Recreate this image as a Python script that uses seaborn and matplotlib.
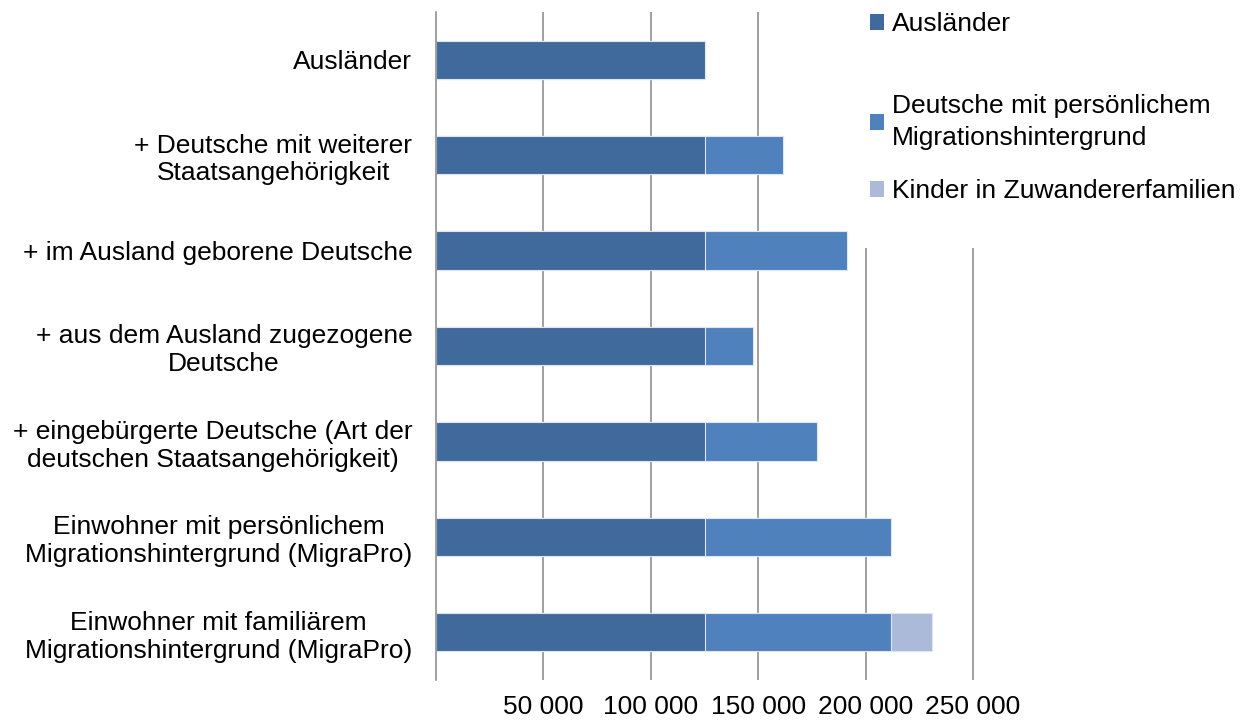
import matplotlib
matplotlib.use("Agg")
import matplotlib.pyplot as plt
from matplotlib.patches import Patch, Rectangle
import pandas as pd
import seaborn as sns

# Daten
kategorien = [
    "Ausländer",
    "+ Deutsche mit weiterer\nStaatsangehörigkeit",
    "+ im Ausland geborene Deutsche",
    "+ aus dem Ausland zugezogene\nDeutsche",
    "+ eingebürgerte Deutsche (Art der\ndeutschen Staatsangehörigkeit)",
    "Einwohner mit persönlichem\nMigrationshintergrund (MigraPro)",
    "Einwohner mit familiärem\nMigrationshintergrund (MigraPro)",
]
auslaender = [125000, 125000, 125000, 125000, 125000, 125000, 125000]
deutsche = [0, 36700, 66500, 22600, 52200, 86700, 86700]
kinder = [0, 0, 0, 0, 0, 0, 19100]

serien = [
    "Ausländer",
    "Deutsche mit persönlichem\nMigrationshintergrund",
    "Kinder in Zuwandererfamilien",
]
farben = ["#416A9C", "#4F81BD", "#AABAD8"]
x_ticks = [50000, 100000, 150000, 200000, 250000]
x_ticklabels = ["50 000", "100 000", "150 000", "200 000", "250 000"]

df = pd.DataFrame({"kategorie": kategorien, "auslaender": auslaender,
                   "deutsche": deutsche, "kinder": kinder})
df["stufe2"] = df["auslaender"] + df["deutsche"]
df["stufe3"] = df["stufe2"] + df["kinder"]

sns.set_theme(style="white")
plt.rcParams["font.family"] = ["Liberation Sans", "DejaVu Sans"]
fs = 19

W, H = 1246, 724
fig = plt.figure(figsize=(W / 100, H / 100), dpi=100)
x0, x250, top, bottom = 436, 973, 12, 680
xmax = 252000
right = x0 + (x250 - x0) * xmax / 250000
ax = fig.add_axes([x0 / W, 1 - bottom / H, (right - x0) / W, (bottom - top) / H])

# gestapelte Balken: erst die Summen, dann die unteren Teile darüber
for spalte, farbe in [("stufe3", farben[2]), ("stufe2", farben[1]), ("auslaender", farben[0])]:
    sns.barplot(data=df, x=spalte, y="kategorie", color=farbe, saturation=1,
                width=0.4, edgecolor="#DDE6F2", linewidth=0.8, ax=ax)

ax.set_xlim(0, xmax)
ax.set_xticks(x_ticks)
ax.set_xticklabels(x_ticklabels, fontsize=fs, color="black")
ax.set_xlabel("")
ax.set_ylabel("")
ax.tick_params(axis="x", length=0, pad=11)
ax.tick_params(axis="y", length=0, pad=17, labelsize=fs, labelcolor="black")
for lbl in ax.get_yticklabels():
    lbl.set_multialignment("center")

ax.grid(axis="x", color="#868686", linewidth=1.1)
ax.grid(axis="y", visible=False)
ax.set_axisbelow(True)
for s in ["top", "right", "bottom"]:
    ax.spines[s].set_visible(False)
ax.spines["left"].set_color("#868686")
ax.spines["left"].set_linewidth(1.1)

# weißer Legendenbereich über den Gitterlinien
fig.add_artist(Rectangle((858 / W, 1 - 248 / H), 1 - 858 / W, 248 / H,
                         transform=fig.transFigure, facecolor="white",
                         edgecolor="none", zorder=1))

legend_y = [24, 122, 191]
for name, farbe, yy in zip(serien, farben, legend_y):
    leg = fig.legend(handles=[Patch(facecolor=farbe, edgecolor="none", label=name)],
                     loc="center left", bbox_to_anchor=(870 / W, 1 - yy / H),
                     frameon=False, fontsize=fs, labelcolor="black",
                     borderpad=0, borderaxespad=0,
                     handlelength=0.54, handleheight=0.54, handletextpad=0.3)
    leg.get_texts()[0].set_linespacing(1.45)

fig.savefig("out.png", dpi=100)
